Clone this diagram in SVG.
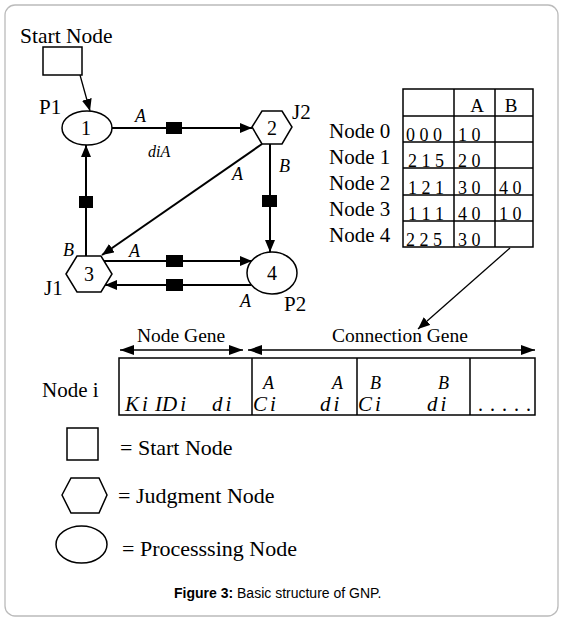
<svg xmlns="http://www.w3.org/2000/svg" width="562" height="622" viewBox="0 0 562 622">
<style>
text{font-family:"Liberation Serif","Times New Roman",serif;fill:#000}
.lb{font-size:21px}
.num{font-size:20px;text-anchor:middle}
.it{font-style:italic;font-size:18px}
.gi{font-style:italic;font-size:21px}
.sup{font-style:italic;font-size:18px}
.cell{font-size:18px}
.shape{fill:#fff;stroke:#000;stroke-width:1.5}
.edge{stroke:#000;stroke-width:2;fill:none}
.thin{stroke:#000;stroke-width:1.3;fill:none}
.sq{fill:#000}
.tbl{stroke:#000;stroke-width:1.5;fill:none}
</style>
<defs>
<marker id="ah" viewBox="0 0 12 10" refX="12" refY="5" markerWidth="12" markerHeight="10" markerUnits="userSpaceOnUse" orient="auto"><path d="M0,0 L12,5 L0,10 z" fill="#000"/></marker>
<marker id="ah2" viewBox="0 0 14 10" refX="14" refY="5" markerWidth="14" markerHeight="10" markerUnits="userSpaceOnUse" orient="auto-start-reverse"><path d="M0,0 L14,5 L0,10 z" fill="#000"/></marker>
</defs>
<rect x="5" y="5" width="553" height="611" rx="10" fill="#fff" stroke="#bbb" stroke-width="1.3"/>

<g id="connectors">
<line class="thin" x1="80" y1="75" x2="90" y2="111" marker-end="url(#ah)"/>
<line class="edge" x1="112" y1="128" x2="252" y2="128" marker-end="url(#ah)"/>
<rect class="sq" x="166" y="122" width="16" height="12"/>
<line class="edge" x1="262" y1="144" x2="102" y2="255" marker-end="url(#ah)"/>
<line class="edge" x1="270" y1="144" x2="270" y2="252" marker-end="url(#ah)"/>
<rect class="sq" x="262" y="195" width="15" height="12"/>
<line class="edge" x1="86" y1="256" x2="86" y2="145" marker-end="url(#ah)"/>
<rect class="sq" x="79" y="196" width="14" height="12"/>
<line class="edge" x1="104" y1="261" x2="252" y2="261" marker-end="url(#ah)"/>
<rect class="sq" x="166" y="255" width="17" height="12"/>
<line class="edge" x1="251" y1="285" x2="105" y2="285" marker-end="url(#ah)"/>
<rect class="sq" x="166" y="279" width="17" height="12"/>
<line class="thin" x1="510" y1="248" x2="418" y2="329" marker-end="url(#ah)"/>
<line class="thin" x1="120" y1="350" x2="243" y2="350" marker-start="url(#ah2)" marker-end="url(#ah2)"/>
<line class="thin" x1="248" y1="350" x2="535" y2="350" marker-start="url(#ah2)" marker-end="url(#ah2)"/>
</g>

<g id="edge-labels">
<text class="it" x="135" y="122">A</text>
<text class="it" x="148" y="157" style="font-size:16px">diA</text>
<text class="it" x="232" y="180">A</text>
<text class="it" x="279" y="172">B</text>
<text class="it" x="63" y="256">B</text>
<text class="it" x="129" y="257">A</text>
<text class="it" x="240" y="307">A</text>
</g>

<g id="start-node">
<text class="lb" x="20" y="43" style="font-size:21.5px">Start Node</text>
<rect class="shape" x="43" y="47" width="39" height="28"/>
</g>
<g id="node-1">
<ellipse class="shape" cx="87" cy="128" rx="25" ry="17"/>
<text class="num" x="86" y="135">1</text>
<text class="lb" x="39" y="114">P1</text>
</g>
<g id="node-2">
<polygon class="shape" points="252,127 262,111 282,111 292,127 282,144 262,144"/>
<text class="num" x="272" y="135">2</text>
<text class="lb" x="292" y="119">J2</text>
</g>
<g id="node-3">
<polygon class="shape" points="66,274 77,256 101,256 112,274 101,292 77,292"/>
<text class="num" x="89" y="281">3</text>
<text class="lb" x="44" y="295">J1</text>
</g>
<g id="node-4">
<ellipse class="shape" cx="272" cy="273" rx="25" ry="21"/>
<text class="num" x="272" y="280">4</text>
<text class="lb" x="284" y="311">P2</text>
</g>

<g id="table">
<rect class="tbl" x="403" y="89" width="130" height="158"/>
<line class="tbl" x1="454" y1="89" x2="454" y2="247"/>
<line class="tbl" x1="495" y1="89" x2="495" y2="247"/>
<line class="tbl" x1="403" y1="116" x2="533" y2="116"/>
<line class="tbl" x1="403" y1="142" x2="533" y2="142"/>
<line class="tbl" x1="403" y1="168" x2="533" y2="168"/>
<line class="tbl" x1="403" y1="195" x2="533" y2="195"/>
<line class="tbl" x1="403" y1="221" x2="533" y2="221"/>
<text x="477" y="112" style="font-size:19px;text-anchor:middle">A</text>
<text x="511" y="112" style="font-size:19px;text-anchor:middle">B</text>
<text class="lb" x="329" y="138">Node 0</text>
<text class="lb" x="329" y="164">Node 1</text>
<text class="lb" x="329" y="190">Node 2</text>
<text class="lb" x="329" y="216">Node 3</text>
<text class="lb" x="329" y="242">Node 4</text>
<text class="cell" x="406" y="141">0 0 0</text><text class="cell" x="458" y="141">1 0</text>
<text class="cell" x="408" y="167">2 1 5</text><text class="cell" x="458" y="167">2 0</text>
<text class="cell" x="408" y="194">1 2 1</text><text class="cell" x="458" y="194">3 0</text><text class="cell" x="499" y="194">4 0</text>
<text class="cell" x="408" y="220">1 1 1</text><text class="cell" x="458" y="220">4 0</text><text class="cell" x="499" y="220">1 0</text>
<text class="cell" x="406" y="246">2 2 5</text><text class="cell" x="458" y="246">3 0</text>
</g>

<g id="gene">
<text x="137" y="342" style="font-size:19.5px">Node Gene</text>
<text x="332" y="342" style="font-size:19.5px">Connection Gene</text>
<text x="42" y="397" style="font-size:21px">Node i</text>
<rect class="tbl" x="119" y="358" width="416" height="57"/>
<line class="tbl" x1="252" y1="358" x2="252" y2="415"/>
<line class="tbl" x1="357" y1="358" x2="357" y2="415"/>
<line class="tbl" x1="470" y1="358" x2="470" y2="415"/>
<text class="gi" x="125" y="411">K<tspan dx="3">i</tspan></text>
<text class="gi" x="155" y="411">ID<tspan dx="3">i</tspan></text>
<text class="gi" x="212" y="411">d<tspan dx="3">i</tspan></text>
<text class="gi" x="253" y="411">C<tspan dx="3">i</tspan></text>
<text class="sup" x="263" y="389">A</text>
<text class="gi" x="320" y="411">d<tspan dx="3">i</tspan></text>
<text class="sup" x="332" y="389">A</text>
<text class="gi" x="358" y="411">C<tspan dx="3">i</tspan></text>
<text class="sup" x="370" y="389">B</text>
<text class="gi" x="427" y="411">d<tspan dx="3">i</tspan></text>
<text class="sup" x="438" y="389">B</text>
<text x="478" y="411" style="font-size:20px;letter-spacing:7px">.....</text>
</g>

<g id="legend-start">
<rect class="shape" x="67" y="428" width="31" height="32"/>
<text x="120" y="455" style="font-size:22px">= Start Node</text>
</g>
<g id="legend-judgment">
<polygon class="shape" points="62,495 71,478 99,478 107,495 99,513 71,513"/>
<text x="118" y="503" style="font-size:22px">= Judgment Node</text>
</g>
<g id="legend-processing">
<ellipse class="shape" cx="81.5" cy="544.5" rx="25.5" ry="18.5"/>
<text x="122" y="556" style="font-size:22px">= Processsing Node</text>
</g>

<text x="174" y="598" style="font-family:'Liberation Sans',Arial,sans-serif;font-size:14px"><tspan font-weight="bold">Figure 3:</tspan> Basic structure of GNP.</text>
</svg>
